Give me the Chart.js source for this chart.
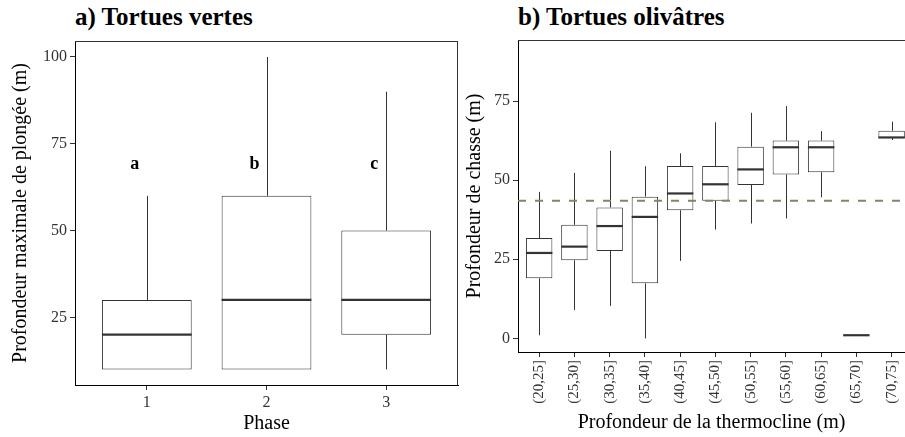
<!DOCTYPE html>
<html lang="fr">
<head>
  <meta charset="UTF-8">
  <meta name="viewport" content="width=device-width, initial-scale=1.0">
  <title>Profondeurs de plongée des tortues</title>
  <script src="https://cdn.jsdelivr.net/npm/chart.js"></script>
  <style>
    body {
      margin: 0;
      background: #fff;
      font-family: "Liberation Serif", serif;
    }
    .wrap {
      position: relative;
      width: 905px;
      height: 437px;
      overflow: hidden;
    }
    canvas {
      position: absolute;
      top: 0;
    }
    #chartA { left: 0; }
    #chartB { left: 460px; }
    .panel-title {
      position: absolute;
      top: 3px;
      font-weight: bold;
      font-size: 25px;
      color: #000;
      white-space: nowrap;
    }
  </style>
</head>
<body>
  <div class="wrap">
    <div class="panel-title" style="left:75px">a) Tortues vertes</div>
    <div class="panel-title" style="left:518px">b) Tortues olivâtres</div>
    <canvas id="chartA" width="470" height="437"></canvas>
    <canvas id="chartB" width="445" height="437"></canvas>
  </div>

  <script>
    // a) green turtles, max dive depth per phase
    const phases = [1, 2, 3];
    const phaseMin = [10, 10, 10];
    const phaseQ1 = [10, 10, 20];
    const phaseMedian = [20, 30, 30];
    const phaseQ3 = [30, 60, 50];
    const phaseMax = [60, 100, 90];
    const phaseLetters = ["a", "b", "c"];
    const letterDepth = 69;
    const phaseYTicks = [25, 50, 75, 100];

    // b) olive ridleys, hunting depth per thermocline depth bin
    const thermoBins = ["(20,25]", "(25,30]", "(30,35]", "(35,40]", "(40,45]", "(45,50]",
                        "(50,55]", "(55,60]", "(60,65]", "(65,70]", "(70,75]"];
    const huntMin = [1, 9, 10.3, 0, 24.5, 34.4, 36.3, 37.9, 44.6, 1, 62.7];
    const huntQ1 = [19, 24.7, 27.6, 17.4, 40.5, 43.5, 48.5, 51.8, 52.5, 1, 63.3];
    const huntMedian = [27, 29, 35.5, 38.4, 45.8, 48.7, 53.4, 60.4, 60.4, 1, 63.5];
    const huntQ3 = [31.7, 35.9, 41.4, 44.8, 54.5, 54.5, 60.6, 62.5, 62.5, 1, 65.6];
    const huntMax = [46.3, 52.3, 59.3, 54.4, 58.5, 68.3, 71.3, 73.4, 65.5, 1, 68.5];
    const meanHuntDepth = 43.5;
    const huntYTicks = [0, 25, 50, 75];

    const serif = "'Liberation Serif', 'Times New Roman', serif";
    const binIndex = thermoBins.map((b, i) => i + 1);

    // whiskers behind the boxes, medians on top
    const makeBoxPlugin = (xs, lo, med, hi, q1, q3) => ({
      id: "boxParts",
      beforeDatasetsDraw(chart) {
        const { ctx, chartArea, scales: { x, y } } = chart;
        ctx.save();
        ctx.beginPath();
        ctx.rect(chartArea.left, chartArea.top, chartArea.width, chartArea.height);
        ctx.clip();
        ctx.strokeStyle = "#333";
        ctx.lineWidth = 1;
        xs.forEach((xv, i) => {
          const px = Math.round(x.getPixelForValue(xv)) + 0.5;
          ctx.beginPath();
          ctx.moveTo(px, y.getPixelForValue(lo[i]));
          ctx.lineTo(px, y.getPixelForValue(q1[i]));
          ctx.moveTo(px, y.getPixelForValue(q3[i]));
          ctx.lineTo(px, y.getPixelForValue(hi[i]));
          ctx.stroke();
        });
        ctx.restore();
      },
      afterDatasetsDraw(chart) {
        const { ctx, chartArea, scales: { y } } = chart;
        const bars = chart.getDatasetMeta(0).data;
        ctx.save();
        ctx.beginPath();
        ctx.rect(chartArea.left, chartArea.top, chartArea.width, chartArea.height);
        ctx.clip();
        ctx.strokeStyle = "#333";
        ctx.lineWidth = 2.2;
        bars.forEach((bar, i) => {
          const py = y.getPixelForValue(med[i]);
          ctx.beginPath();
          ctx.moveTo(bar.x - bar.width / 2, py);
          ctx.lineTo(bar.x + bar.width / 2, py);
          ctx.stroke();
        });
        ctx.restore();
      }
    });

    const letterPlugin = {
      id: "letters",
      afterDatasetsDraw(chart) {
        const { ctx, scales: { x, y } } = chart;
        ctx.save();
        ctx.fillStyle = "#000";
        ctx.font = "bold 18px " + serif;
        ctx.textAlign = "center";
        ctx.textBaseline = "middle";
        phaseLetters.forEach((t, i) => {
          ctx.fillText(t, x.getPixelForValue(phases[i] - 0.1), y.getPixelForValue(letterDepth));
        });
        ctx.restore();
      }
    };

    const refLinePlugin = {
      id: "refLine",
      afterDatasetsDraw(chart) {
        const { ctx, chartArea, scales: { y } } = chart;
        const py = y.getPixelForValue(meanHuntDepth);
        ctx.save();
        ctx.strokeStyle = "#8b7f6e";
        ctx.lineWidth = 2;
        ctx.setLineDash([8, 9]);
        ctx.beginPath();
        ctx.moveTo(chartArea.left, py);
        ctx.lineTo(chartArea.right, py);
        ctx.stroke();
        ctx.restore();
      }
    };

    const framePlugin = (withRight) => ({
      id: "frame",
      afterDraw(chart) {
        const { ctx, chartArea: a } = chart;
        ctx.save();
        ctx.strokeStyle = "#333";
        ctx.lineWidth = 1;
        ctx.beginPath();
        ctx.moveTo(a.left, Math.round(a.top) + 0.5);
        ctx.lineTo(a.right, Math.round(a.top) + 0.5);
        if (withRight) {
          ctx.moveTo(Math.round(a.right) - 0.5, a.top);
          ctx.lineTo(Math.round(a.right) - 0.5, a.bottom);
        }
        ctx.stroke();
        ctx.restore();
      }
    });

    const axisStyle = (title, titlePad, tickFont) => ({
      offset: false,
      grid: { drawOnChartArea: false, drawTicks: true, tickLength: 5, color: "#333", offset: false },
      border: { display: true, color: "#000", width: 1 },
      ticks: { color: "#333", font: { family: serif, size: tickFont }, padding: 3 },
      title: { display: true, text: title, color: "#000", font: { family: serif, size: 20 }, padding: titlePad }
    });

    const boxDataset = (xs, q1, q3) => ({
      data: xs.map((v, i) => ({ x: v, y: [q1[i], q3[i]] })),
      backgroundColor: "#fff",
      borderColor: "#333",
      borderWidth: 1,
      borderSkipped: false,
      categoryPercentage: 1,
      barPercentage: 0.75
    });

    // a) Tortues vertes
    const scaleA = {
      x: Object.assign(axisStyle("Phase", { top: 0, bottom: 1 }, 16), {
        type: "linear", min: 0.4, max: 3.6,
        afterBuildTicks: (s) => { s.ticks = phases.map((v) => ({ value: v })); },
        afterFit: (s) => { s.height = 52; }
      }),
      y: Object.assign(axisStyle("Profondeur maximale de plongée (m)", { top: 9, bottom: 0 }, 16), {
        type: "linear", min: 5.5, max: 104.6,
        afterBuildTicks: (s) => { s.ticks = phaseYTicks.map((v) => ({ value: v })); },
        afterFit: (s) => { s.width = 75; }
      })
    };

    new Chart(document.getElementById("chartA"), {
      type: "bar",
      data: { datasets: [boxDataset(phases, phaseQ1, phaseQ3)] },
      options: {
        responsive: false,
        animation: false,
        layout: { padding: { top: 41, right: 12, left: 0, bottom: 0 } },
        plugins: { legend: { display: false }, tooltip: { enabled: false } },
        scales: scaleA
      },
      plugins: [
        makeBoxPlugin(phases, phaseMin, phaseMedian, phaseMax, phaseQ1, phaseQ3),
        letterPlugin,
        framePlugin(true)
      ]
    });

    // b) Tortues olivâtres
    const scaleB = {
      x: Object.assign(axisStyle("Profondeur de la thermocline (m)", { top: 0, bottom: 2 }, 15), {
        type: "linear", min: 0.4, max: 11.38,
        afterBuildTicks: (s) => { s.ticks = binIndex.map((v) => ({ value: v })); },
        afterFit: (s) => {
          s.height = 85;
          // panel runs off the right edge, like the source figure
          s.paddingLeft = 0;
          s.paddingRight = 0;
        }
      }),
      y: Object.assign(axisStyle("Profondeur de chasse (m)", { top: 3, bottom: 0 }, 16), {
        type: "linear", min: -4.3, max: 94.3,
        afterBuildTicks: (s) => { s.ticks = huntYTicks.map((v) => ({ value: v })); },
        afterFit: (s) => { s.width = 58; }
      })
    };
    scaleB.x.ticks = Object.assign(scaleB.x.ticks, {
      minRotation: 90, maxRotation: 90, autoSkip: false,
      callback: (v) => thermoBins[v - 1]
    });

    new Chart(document.getElementById("chartB"), {
      type: "bar",
      data: { datasets: [boxDataset(binIndex, huntQ1, huntQ3)] },
      options: {
        responsive: false,
        animation: false,
        layout: { padding: { top: 40, right: 0, left: 0, bottom: 0 } },
        plugins: { legend: { display: false }, tooltip: { enabled: false } },
        scales: scaleB
      },
      plugins: [
        makeBoxPlugin(binIndex, huntMin, huntMedian, huntMax, huntQ1, huntQ3),
        refLinePlugin,
        framePlugin(false)
      ]
    });
  </script>
</body>
</html>
